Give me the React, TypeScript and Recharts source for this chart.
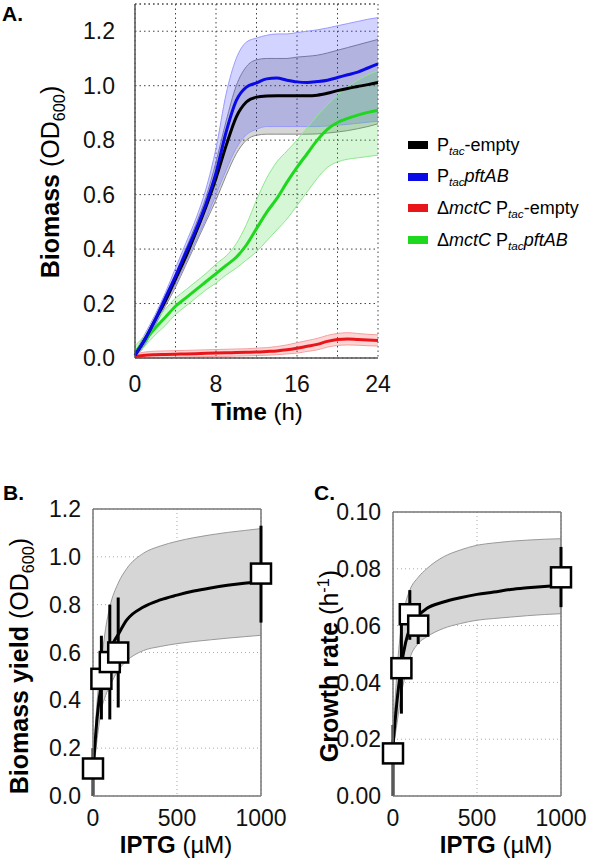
import React from 'react';
import {
  ComposedChart, Area, Line, Scatter, ErrorBar, XAxis, YAxis, CartesianGrid, ReferenceLine,
} from 'recharts';

const FONT = '"Liberation Sans", Arial, Helvetica, sans-serif';

// Panel A: growth curves (time in h, biomass OD600)
const hours = [0, 1, 2, 3, 4, 5, 6, 7, 8, 9, 10, 11, 12, 13, 14, 15, 16, 17, 18, 19, 20, 21, 22, 23, 24];

const emptyMean = [0.01, 0.07, 0.14, 0.21, 0.29, 0.37, 0.46, 0.555, 0.66, 0.78, 0.885, 0.94, 0.958, 0.962, 0.963, 0.963, 0.963, 0.963, 0.965, 0.972, 0.982, 0.99, 0.997, 1.004, 1.012];
const emptyLow = [0.0, 0.05, 0.12, 0.19, 0.26, 0.34, 0.42, 0.5, 0.58, 0.67, 0.75, 0.8, 0.818, 0.822, 0.822, 0.822, 0.822, 0.822, 0.823, 0.826, 0.83, 0.835, 0.842, 0.85, 0.86];
const emptyHigh = [0.02, 0.08, 0.15, 0.23, 0.31, 0.4, 0.49, 0.59, 0.72, 0.87, 1.0, 1.07, 1.095, 1.1, 1.1, 1.1, 1.105, 1.108, 1.112, 1.12, 1.13, 1.14, 1.15, 1.16, 1.17];

const pftMean = [0.01, 0.07, 0.14, 0.22, 0.3, 0.385, 0.47, 0.565, 0.68, 0.83, 0.945, 0.995, 1.01, 1.025, 1.028, 1.02, 1.014, 1.012, 1.015, 1.02, 1.03, 1.04, 1.05, 1.065, 1.08];
const pftLow = [0.0, 0.05, 0.12, 0.2, 0.27, 0.35, 0.43, 0.51, 0.6, 0.69, 0.77, 0.82, 0.84, 0.85, 0.85, 0.85, 0.85, 0.85, 0.85, 0.852, 0.855, 0.858, 0.862, 0.866, 0.87];
const pftHigh = [0.02, 0.09, 0.16, 0.24, 0.33, 0.42, 0.51, 0.62, 0.77, 0.97, 1.1, 1.16, 1.175, 1.185, 1.19, 1.19, 1.195, 1.2, 1.205, 1.212, 1.22, 1.228, 1.236, 1.244, 1.25];

const mctEmptyMean = [0.005, 0.01, 0.012, 0.013, 0.014, 0.015, 0.016, 0.017, 0.018, 0.019, 0.02, 0.021, 0.022, 0.024, 0.026, 0.03, 0.036, 0.043, 0.05, 0.061, 0.068, 0.07, 0.068, 0.066, 0.064];
const mctEmptyLow = [0.0, 0.0, 0.0, 0.001, 0.002, 0.003, 0.004, 0.005, 0.006, 0.006, 0.007, 0.008, 0.009, 0.01, 0.012, 0.015, 0.018, 0.024, 0.03, 0.04, 0.046, 0.048, 0.047, 0.045, 0.044];
const mctEmptyHigh = [0.015, 0.022, 0.025, 0.026, 0.027, 0.028, 0.029, 0.03, 0.031, 0.032, 0.033, 0.034, 0.036, 0.038, 0.042, 0.048, 0.056, 0.064, 0.072, 0.083, 0.09, 0.093, 0.09, 0.087, 0.085];

const mctPftMean = [0.02, 0.065, 0.11, 0.15, 0.19, 0.22, 0.25, 0.28, 0.31, 0.34, 0.37, 0.415, 0.475, 0.535, 0.585, 0.645, 0.7, 0.75, 0.8, 0.84, 0.865, 0.88, 0.892, 0.902, 0.91];
const mctPftLow = [0.0, 0.045, 0.085, 0.12, 0.16, 0.19, 0.22, 0.25, 0.275, 0.305, 0.33, 0.36, 0.39, 0.43, 0.47, 0.51, 0.56, 0.61, 0.66, 0.7, 0.72, 0.73, 0.735, 0.74, 0.745];
const mctPftHigh = [0.045, 0.085, 0.135, 0.18, 0.22, 0.25, 0.28, 0.31, 0.345, 0.375, 0.42, 0.49, 0.58, 0.66, 0.72, 0.76, 0.8, 0.845, 0.89, 0.93, 0.965, 0.995, 1.02, 1.04, 1.055];

const timeTicks = [0, 4, 8, 12, 16, 20, 24];
const biomassTicks = [0, 0.2, 0.4, 0.6, 0.8, 1.0, 1.2];

// Panel B / C: IPTG titration
const iptg = [0, 50, 100, 150, 1000];
const yieldMean = [0.115, 0.49, 0.56, 0.6, 0.93];
const yieldLow = [0.0, 0.32, 0.32, 0.37, 0.725];
const yieldHigh = [0.2, 0.67, 0.8, 0.83, 1.13];

const rateMean = [0.015, 0.045, 0.064, 0.06, 0.077];
const rateLow = [0.0, 0.029, 0.055, 0.0535, 0.0665];
const rateHigh = [0.025, 0.061, 0.0725, 0.0665, 0.0877];

const fitIptg = [0, 25, 50, 75, 100, 150, 200, 300, 400, 500, 600, 700, 800, 900, 1000];
const yieldFit = [0.1, 0.33, 0.47, 0.55, 0.61, 0.675, 0.735, 0.79, 0.82, 0.84, 0.857, 0.87, 0.881, 0.89, 0.897];
const yieldFitLow = [0.08, 0.24, 0.36, 0.42, 0.46, 0.525, 0.565, 0.608, 0.625, 0.637, 0.646, 0.653, 0.66, 0.666, 0.672];
const yieldFitHigh = [0.12, 0.4, 0.56, 0.7, 0.79, 0.89, 0.95, 1.015, 1.045, 1.065, 1.08, 1.092, 1.102, 1.11, 1.118];

const rateFit = [0.018, 0.034, 0.046, 0.054, 0.059, 0.0635, 0.066, 0.0683, 0.0698, 0.071, 0.0718, 0.0727, 0.0733, 0.0738, 0.0742];
const rateFitLow = [0.016, 0.026, 0.036, 0.043, 0.0485, 0.0537, 0.056, 0.059, 0.0607, 0.0619, 0.0625, 0.063, 0.0635, 0.0639, 0.0642];
const rateFitHigh = [0.02, 0.045, 0.06, 0.068, 0.0725, 0.077, 0.08, 0.0842, 0.0866, 0.0883, 0.0891, 0.0897, 0.0901, 0.0904, 0.0906];

const iptgTicks = [0, 500, 1000];
const yieldTicks = [0, 0.2, 0.4, 0.6, 0.8, 1.0, 1.2];
const rateTicks = [0, 0.02, 0.04, 0.06, 0.08, 0.1];

const growthRows = hours.map((t, i) => ({
  t,
  empty: emptyMean[i], emptyBand: [emptyLow[i], emptyHigh[i]],
  pft: pftMean[i], pftBand: [pftLow[i], pftHigh[i]],
  mctEmpty: mctEmptyMean[i], mctEmptyBand: [mctEmptyLow[i], mctEmptyHigh[i]],
  mctPft: mctPftMean[i], mctPftBand: [mctPftLow[i], mctPftHigh[i]],
}));

const yieldPts = iptg.map((x, i) => ({ x, y: yieldMean[i], err: [yieldMean[i] - yieldLow[i], yieldHigh[i] - yieldMean[i]] }));
const ratePts = iptg.map((x, i) => ({ x, y: rateMean[i], err: [rateMean[i] - rateLow[i], rateHigh[i] - rateMean[i]] }));
const yieldFitRows = fitIptg.map((x, i) => ({ x, fit: yieldFit[i], band: [yieldFitLow[i], yieldFitHigh[i]] }));
const rateFitRows = fitIptg.map((x, i) => ({ x, fit: rateFit[i], band: [rateFitLow[i], rateFitHigh[i]] }));

const Sub = ({ children }: { children: React.ReactNode }) => (
  <sub style={{ fontSize: '0.65em', fontStyle: 'italic', verticalAlign: '-0.3em', lineHeight: 0 }}>{children}</sub>
);

const strains = [
  { key: 'empty', color: '#000000', label: <>P<Sub>tac</Sub>-empty</> },
  { key: 'pft', color: '#0a0ae6', label: <>P<Sub>tac</Sub><i>pftAB</i></> },
  { key: 'mctEmpty', color: '#e8161b', label: <>Δ<i>mctC</i> P<Sub>tac</Sub>-empty</> },
  { key: 'mctPft', color: '#1ed81e', label: <>Δ<i>mctC</i> P<Sub>tac</Sub><i>pftAB</i></> },
];

const tickStyle = { fill: '#111', fontSize: 23, fontFamily: FONT };

const square = (props: any) => (
  <rect x={props.cx - 10} y={props.cy - 10} width={20} height={20} fill="#fff" stroke="#000" strokeWidth={2.5} />
);

const abs = (left: number, top: number, extra: React.CSSProperties = {}): React.CSSProperties => ({
  position: 'absolute', left, top, whiteSpace: 'nowrap', ...extra,
});

const YTitle = ({ cx, cy, children }: { cx: number; cy: number; children: React.ReactNode }) => (
  <div style={abs(cx, cy, { fontSize: 25, transform: 'translate(-50%, -50%) rotate(-90deg)' })}>{children}</div>
);
const XTitle = ({ cx, cy, children }: { cx: number; cy: number; children: React.ReactNode }) => (
  <div style={abs(cx, cy, { fontSize: 24, transform: 'translate(-50%, -50%)' })}>{children}</div>
);

function DoseChart({ pts, fitRows, ticks, top, fmt }: any) {
  return (
    <ComposedChart width={300} height={380} margin={{ top, right: 39, bottom: 34, left: 43 }}>
      <CartesianGrid stroke="#aaa" strokeDasharray="1 3" />
      <XAxis dataKey="x" type="number" domain={[0, 1000]} ticks={iptgTicks} height={30}
        tick={tickStyle} tickLine={false} tickMargin={8} axisLine={{ stroke: '#777', strokeWidth: 1.5 }} />
      <YAxis type="number" domain={[ticks[0], ticks[ticks.length - 1]]} ticks={ticks} width={50}
        tickFormatter={fmt} tick={tickStyle} tickLine={false} tickMargin={6} axisLine={{ stroke: '#777', strokeWidth: 1.5 }} />
      <ReferenceLine y={ticks[ticks.length - 1]} stroke="#777" strokeWidth={1.5} />
      <ReferenceLine x={1000} stroke="#777" strokeWidth={1.5} />
      <Area data={fitRows} dataKey="band" type="monotone" stroke="#999" strokeWidth={1} fill="#d6d6d6" fillOpacity={1}
        isAnimationActive={false} dot={false} activeDot={false} />
      <Line data={fitRows} dataKey="fit" type="monotone" stroke="#000" strokeWidth={3} dot={false} isAnimationActive={false} />
      <Scatter data={pts} dataKey="y" shape={square} isAnimationActive={false}>
        <ErrorBar dataKey="err" direction="y" width={0} stroke="#000" strokeWidth={3} isAnimationActive={false} />
      </Scatter>
    </ComposedChart>
  );
}

export default function App() {
  return (
    <div style={{ position: 'absolute', left: 0, top: 0, width: 601, height: 865, background: '#fff', fontFamily: FONT, color: '#000' }}>
      <div style={abs(0, 0)}>
        <ComposedChart width={601} height={430} data={growthRows} margin={{ top: 4, right: 223, bottom: 42, left: 75 }}>
          <CartesianGrid stroke="#444" strokeDasharray="1.5 3" />
          <XAxis dataKey="t" type="number" domain={[0, 24]} ticks={timeTicks} height={30}
            tickFormatter={(v: number) => (v % 8 === 0 ? String(v) : '')}
            tick={tickStyle} tickLine={false} tickMargin={12} axisLine={{ stroke: '#555', strokeWidth: 1.5 }} />
          <YAxis type="number" domain={[0, 1.3]} ticks={biomassTicks} width={60}
            tickFormatter={(v: number) => v.toFixed(1)}
            tick={tickStyle} tickLine={false} tickMargin={14} axisLine={{ stroke: '#555', strokeWidth: 1.5 }} />
          <ReferenceLine y={1.3} stroke="#444" strokeDasharray="1.5 3" />
          <Area dataKey="emptyBand" type="monotone" stroke="#8a8a8a" strokeWidth={1} fill="#000" fillOpacity={0.16}
            isAnimationActive={false} dot={false} activeDot={false} />
          <Area dataKey="pftBand" type="monotone" stroke="#9a9aff" strokeWidth={1} fill="#3535ff" fillOpacity={0.22}
            isAnimationActive={false} dot={false} activeDot={false} />
          <Area dataKey="mctPftBand" type="monotone" stroke="#8ee88e" strokeWidth={1} fill="#2ed82e" fillOpacity={0.2}
            isAnimationActive={false} dot={false} activeDot={false} />
          <Area dataKey="mctEmptyBand" type="monotone" stroke="#f5a0a0" strokeWidth={1} fill="#ff2a2a" fillOpacity={0.2}
            isAnimationActive={false} dot={false} activeDot={false} />
          <Line dataKey="mctEmpty" type="monotone" stroke={strains[2].color} strokeWidth={3} dot={false} isAnimationActive={false} />
          <Line dataKey="mctPft" type="monotone" stroke={strains[3].color} strokeWidth={3} dot={false} isAnimationActive={false} />
          <Line dataKey="empty" type="monotone" stroke={strains[0].color} strokeWidth={3} dot={false} isAnimationActive={false} />
          <Line dataKey="pft" type="monotone" stroke={strains[1].color} strokeWidth={3} dot={false} isAnimationActive={false} />
        </ComposedChart>
      </div>

      {strains.map((s, i) => (
        <div key={s.key} style={abs(408, 133 + i * 31.7, { height: 24, display: 'flex', alignItems: 'center', fontSize: 18 })}>
          <span style={{ display: 'inline-block', width: 20, height: 8, background: s.color, marginRight: 9 }} />
          <span>{s.label}</span>
        </div>
      ))}

      <div style={abs(2, 2, { fontSize: 21, fontWeight: 'bold' })}>A.</div>
      <YTitle cx={52} cy={182}><b>Biomass</b> (OD<sub style={{ fontSize: '0.65em' }}>600</sub>)</YTitle>
      <XTitle cx={257} cy={412}><b>Time</b> (h)</XTitle>

      <div style={abs(0, 480)}>
        <DoseChart pts={yieldPts} fitRows={yieldFitRows} ticks={yieldTicks} top={29} fmt={(v: number) => v.toFixed(1)} />
      </div>
      <div style={abs(300, 480)}>
        <DoseChart pts={ratePts} fitRows={rateFitRows} ticks={rateTicks} top={32} fmt={(v: number) => v.toFixed(2)} />
      </div>

      <div style={abs(3, 481, { fontSize: 21, fontWeight: 'bold' })}>B.</div>
      <div style={abs(314, 481, { fontSize: 21, fontWeight: 'bold' })}>C.</div>
      <YTitle cx={21} cy={666}><b>Biomass yield</b> (OD<sub style={{ fontSize: '0.65em' }}>600</sub>)</YTitle>
      <YTitle cx={329} cy={666}><b>Growth rate</b> (h<sup style={{ fontSize: '0.65em' }}>-1</sup>)</YTitle>
      <XTitle cx={176} cy={845}><b>IPTG</b> (µM)</XTitle>
      <XTitle cx={496} cy={845}><b>IPTG</b> (µM)</XTitle>
    </div>
  );
}
